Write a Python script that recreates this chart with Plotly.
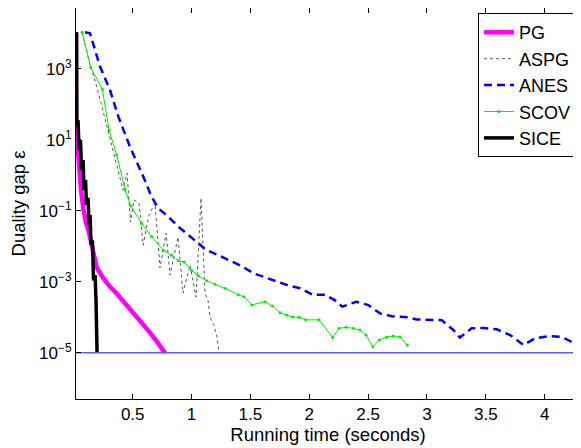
import plotly.graph_objects as go

# ---- data ----
pg_x = [0.018, 0.018, 0.03, 0.045, 0.06, 0.08, 0.10, 0.123, 0.145, 0.165, 0.194,
        0.25, 0.307, 0.364, 0.42, 0.477, 0.533, 0.59, 0.647, 0.704, 0.774]
pg_y = [10700, 28.8, 7.9, 1.58, 0.4, 0.117, 0.05, 0.029, 0.0126, 0.0063, 0.0025,
        0.00126, 7.2e-4, 4.7e-4, 2.9e-4, 1.78e-4, 1.07e-4, 6.5e-5, 3.7e-5, 2.1e-5, 1e-5]

aspg_x = [0.069, 0.143, 0.171, 0.196, 0.231, 0.282, 0.316, 0.358, 0.392, 0.418, 0.452,
          0.481, 0.511, 0.554, 0.588, 0.638, 0.689, 0.732, 0.783, 0.817, 0.885, 0.927,
          0.987, 1.038, 1.080, 1.114, 1.14, 1.157, 1.191, 1.216, 1.233]
aspg_y = [10700, 1100, 589, 302, 107, 22.9, 8.1, 2.7, 0.83, 0.38, 1.15,
          0.048, 0.2, 0.166, 0.0107, 0.076, 0.166, 0.00245, 0.0234, 0.00155, 0.0182, 4.8e-4,
          0.00295, 3.7e-4, 0.229, 4.8e-4, 3.0e-4, 1e-4, 5.9e-5, 2.75e-5, 1e-5]

anes_x = [0.095, 0.137, 0.222, 0.307, 0.378, 0.477, 0.590, 0.661, 0.718, 0.803, 0.888,
          0.972, 1.057, 1.128, 1.227, 1.327, 1.426, 1.525, 1.610, 1.709, 1.822, 1.921,
          2.03, 2.134, 2.219, 2.28, 2.40, 2.502, 2.601, 2.701, 2.814, 2.913, 3.026,
          3.126, 3.224, 3.28, 3.38, 3.479, 3.593, 3.706, 3.819, 3.918, 4.031, 4.145,
          4.23, 4.295]
anes_y = [10700, 10000, 1150, 251, 44.7, 6.3, 0.91, 0.245, 0.117, 0.0676, 0.0355,
          0.0209, 0.012, 0.00776, 0.00562, 0.00389, 0.00275, 0.00174, 0.00138, 0.00107, 7.9e-4, 6.6e-4,
          4.3e-4, 4.3e-4, 3.0e-4, 2.0e-4, 2.75e-4, 2.2e-4, 1.29e-4, 1.07e-4, 1.02e-4, 8.7e-5, 8.7e-5,
          8.3e-5, 4.4e-5, 2.7e-5, 4.9e-5, 5.0e-5, 4.6e-5, 3.16e-5, 1.66e-5, 2.57e-5, 2.95e-5, 2.8e-5,
          2.04e-5, 1.07e-5]

scov_x = [0.069, 0.143, 0.242, 0.299, 0.364, 0.435, 0.483, 0.576, 0.661, 0.760, 0.831,
          0.887, 0.936, 1.001, 1.058, 1.128, 1.199, 1.284, 1.397, 1.445, 1.511, 1.624,
          1.686, 1.752, 1.808, 1.859, 1.915, 1.970, 2.083, 2.199, 2.253, 2.312, 2.374,
          2.431, 2.482, 2.539, 2.595, 2.658, 2.714, 2.771, 2.833]
scov_y = [10700, 1100, 263, 18.6, 3.7, 0.40, 0.138, 0.0437, 0.0186, 0.00776, 0.00562,
          0.00389, 0.00363, 0.00209, 0.00148, 0.00107, 8.5e-4, 6.6e-4, 4.3e-4, 3.8e-4, 2.24e-4, 2.75e-4,
          2.09e-4, 1.35e-4, 1.15e-4, 1.02e-4, 1.0e-4, 8.5e-5, 8.5e-5, 2.7e-5, 4.9e-5, 5.25e-5, 4.9e-5,
          4.4e-5, 3.16e-5, 1.48e-5, 2.3e-5, 2.75e-5, 3.0e-5, 2.8e-5, 1.66e-5]

sice_x = [0.0225, 0.025, 0.035, 0.044, 0.056, 0.065, 0.078, 0.086, 0.099, 0.107,
          0.12, 0.129, 0.137, 0.146, 0.158, 0.167, 0.18, 0.188, 0.197]
sice_y = [10700, 25, 36, 5.1, 9.8, 1.4, 2.7, 0.38, 0.74, 0.145,
          0.23, 0.04, 0.076, 0.0107, 0.0148, 0.0011, 0.00155, 0.0003, 1e-5]

tol_x = [0.018, 4.3]
tol_y = [1e-5, 1e-5]

x_ticks = [0.5, 1, 1.5, 2, 2.5, 3, 3.5, 4]
x_ticklabels = ["0.5", "1", "1.5", "2", "2.5", "3", "3.5", "4"]
y_ticks = [1e-5, 1e-3, 1e-1, 1e1, 1e3]
y_ticklabels = ["10<sup>−5</sup>", "10<sup>−3</sup>", "10<sup>−1</sup>", "10<sup>1</sup>", "10<sup>3</sup>"]

FONT = "Liberation Sans, Arial, Helvetica, sans-serif"

fig = go.Figure()
fig.add_trace(go.Scatter(x=pg_x, y=pg_y, name="PG", mode="lines",
                         line=dict(color="#ff00ff", width=4.5)))
fig.add_trace(go.Scatter(x=aspg_x, y=aspg_y, name="ASPG", mode="lines",
                         line=dict(color="#555555", width=1, dash="dot")))
fig.add_trace(go.Scatter(x=anes_x, y=anes_y, name="ANES", mode="lines",
                         line=dict(color="#0000ff", width=2.5, dash="8px,5px")))
fig.add_trace(go.Scatter(x=scov_x, y=scov_y, name="SCOV", mode="lines+markers",
                         line=dict(color="#00ee00", width=1),
                         marker=dict(color="#00ee00", size=3)))
fig.add_trace(go.Scatter(x=sice_x, y=sice_y, name="SICE", mode="lines",
                         line=dict(color="#000000", width=3.5)))
fig.add_trace(go.Scatter(x=tol_x, y=tol_y, mode="lines", showlegend=False,
                         line=dict(color="#5a5aff", width=1.5)))

# The page body keeps the browser's default 8px margin, so the figure is
# sized 8px smaller and its margins shifted to compensate.
fig.update_layout(
    width=573, height=440,
    margin=dict(l=68, r=1, t=0, b=49),
    paper_bgcolor="white", plot_bgcolor="white",
    font=dict(family=FONT, size=17, color="black"),
    showlegend=True,
    legend=dict(x=0.994, y=0.987, xanchor="right", yanchor="top",
                bgcolor="white", bordercolor="black", borderwidth=1,
                font=dict(size=18), tracegroupgap=0, itemwidth=30),
    xaxis=dict(range=[0.018, 4.3], tickvals=x_ticks, ticktext=x_ticklabels,
               ticks="inside", ticklen=5, tickcolor="black", mirror="allticks",
               showline=True, linecolor="black", linewidth=1, showgrid=False,
               zeroline=False, automargin=False,
               title=dict(text="Running time (seconds)", standoff=2,
                          font=dict(size=18.5))),
    yaxis=dict(type="log", range=[-6.3, 4.71], tickvals=y_ticks, ticktext=y_ticklabels,
               ticks="inside", ticklen=5, tickcolor="black", mirror="allticks",
               showline=True, linecolor="black", linewidth=1, showgrid=False,
               zeroline=False, automargin=False,
               title=dict(text="Duality gap ε", standoff=18, font=dict(size=18.5))),
)

fig.write_html("out.html")
